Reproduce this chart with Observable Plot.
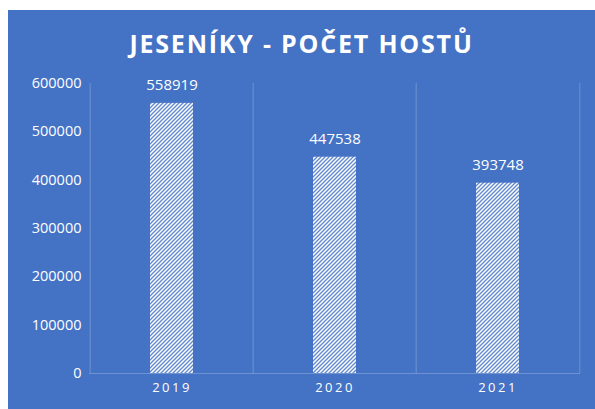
<!DOCTYPE html>
<html>
<head>
<meta charset="utf-8">
<script src="https://cdn.jsdelivr.net/npm/d3@7"></script>
<script src="https://cdn.jsdelivr.net/npm/@observablehq/plot@0.6"></script>
<style>
  html, body { margin: 0; padding: 0; background: #ffffff; }
  #panel { position: absolute; left: 8px; top: 10px; width: 587px; height: 399px; background: #4472C4; overflow: hidden; }
  #title { position: absolute; left: 0; top: 18px; width: 587px; text-align: center; color: #ffffff;
           font-family: "Open Sans", sans-serif; font-weight: 700; font-size: 25px; letter-spacing: 1.8px; line-height: 30px; }
  #chart { position: absolute; left: 0; top: 60px; }
</style>
</head>
<body>
<div id="panel">
  <div id="title">JESENÍKY - POČET HOSTŮ</div>
  <div id="chart"></div>
</div>
<script>
const years = ["2019", "2020", "2021"];
const guests = [558919, 447538, 393748];
const yTicks = [0, 100000, 200000, 300000, 400000, 500000, 600000];

const data = years.map((y, i) => ({ year: y, value: guests[i] }));

const W = 587, H = 339;
const mL = 81, mR = 15, mT = 13, mB = 36;
const step = (W - mL - mR) / years.length;
const gridColor = "#6f93d2";

const plot = Plot.plot({
  width: W,
  height: H,
  marginLeft: mL,
  marginRight: mR,
  marginTop: mT,
  marginBottom: mB,
  style: { background: "transparent", color: "#ffffff", fontFamily: "Open Sans, sans-serif", fontSize: "14px" },
  x: { domain: years, padding: 0, label: null },
  y: { domain: [0, 600000], label: null },
  marks: [
    Plot.ruleX(years, { x: d => d, dx: -step / 2, y1: 0, y2: 600000, stroke: gridColor, strokeWidth: 1 }),
    Plot.ruleX([years[years.length - 1]], { x: d => d, dx: step / 2, y1: 0, y2: 600000, stroke: gridColor, strokeWidth: 1 }),
    Plot.ruleY([0], { stroke: gridColor, strokeWidth: 1 }),
    Plot.barY(data, { x: "year", y: "value", fill: "url(#hatch)", insetLeft: 60, insetRight: 60 }),
    Plot.text(data, { x: "year", y: "value", text: d => String(d.value), dy: -18, fill: "#ffffff", fontSize: 15 }),
    Plot.axisY({ ticks: yTicks, tickSize: 0, tickPadding: 8, tickFormat: d => String(d), fontSize: 14.5, fill: "#ffffff", label: null }),
    Plot.axisX({ tickSize: 0, tickPadding: 9, fontSize: 13, fill: "#ffffff", label: null })
  ]
});

// hatch pattern (wide upward diagonal)
const svg = d3.select(plot);
const defs = svg.insert("defs", ":first-child");
const pat = defs.append("pattern")
  .attr("id", "hatch")
  .attr("patternUnits", "userSpaceOnUse")
  .attr("width", 4)
  .attr("height", 4);
pat.append("rect").attr("width", 4).attr("height", 4).attr("fill", "#ffffff");
pat.append("path")
  .attr("d", "M-1,1 L1,-1 M0,4 L4,0 M3,5 L5,3")
  .attr("stroke", "#5f87cd")
  .attr("stroke-width", 1.3);

svg.selectAll("[aria-label='x-axis tick label'] text").style("letter-spacing", "2.5px");

document.getElementById("chart").appendChild(plot);
</script>
</body>
</html>
